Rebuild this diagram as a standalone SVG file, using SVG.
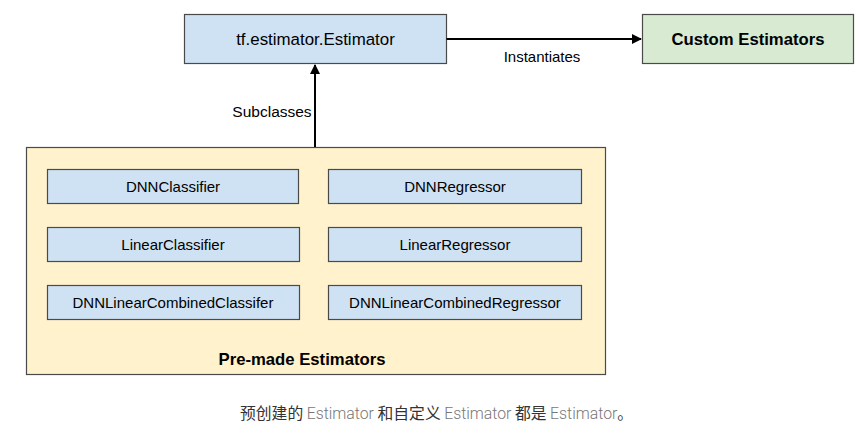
<svg xmlns="http://www.w3.org/2000/svg" width="866" height="433" viewBox="0 0 866 433">
<style>
.box{stroke:#4a4a4a;stroke-width:1.2}
.blue{fill:#cfe2f3}
.green{fill:#d9ead3}
.yellow{fill:#fff2cc}
text{font-family:"Liberation Sans",Arial,sans-serif;fill:#000}
.t{font-size:15px;text-anchor:middle}
.b{font-weight:bold;font-size:16.7px;text-anchor:middle}
.cap{font-size:15.8px;font-family:"Noto Sans CJK SC","Liberation Sans",sans-serif;fill:#333}
.lt{fill:#777;font-family:Roboto,"Liberation Sans",sans-serif;font-weight:300}
</style>
<defs>
<marker id="ah" markerWidth="10" markerHeight="10" refX="9" refY="5" orient="auto" markerUnits="userSpaceOnUse">
<path d="M0,0 L10,5 L0,10 z" fill="#000"/>
</marker>
</defs>
<g id="estimator"><rect class="box blue" x="184.5" y="14.5" width="262" height="49"/><text class="t" x="315.5" y="45" style="font-size:16.9px">tf.estimator.Estimator</text></g>
<g id="custom"><rect class="box green" x="642.5" y="14.5" width="211" height="49"/><text class="b" x="748" y="45">Custom Estimators</text></g>
<g id="premade"><rect class="box yellow" x="26.5" y="147.5" width="579" height="227"/><text class="b" x="302" y="365">Pre-made Estimators</text></g>
<g id="dnnclassifier"><rect class="box blue" x="47.5" y="169.5" width="251" height="34"/><text class="t" x="173" y="192">DNNClassifier</text></g>
<g id="dnnregressor"><rect class="box blue" x="328.5" y="169.5" width="253" height="34"/><text class="t" x="455" y="192">DNNRegressor</text></g>
<g id="linearclassifier"><rect class="box blue" x="47.5" y="227.5" width="252" height="34"/><text class="t" x="173" y="250">LinearClassifier</text></g>
<g id="linearregressor"><rect class="box blue" x="328.5" y="227.5" width="253" height="34"/><text class="t" x="455" y="250">LinearRegressor</text></g>
<g id="dnnlinearclassifier"><rect class="box blue" x="47.5" y="285.5" width="252" height="34"/><text class="t" x="173" y="308">DNNLinearCombinedClassifer</text></g>
<g id="dnnlinearregressor"><rect class="box blue" x="328.5" y="285.5" width="253" height="34"/><text class="t" x="455" y="308">DNNLinearCombinedRegressor</text></g>
<g id="connectors">
<line x1="446.5" y1="39" x2="641" y2="39" stroke="#000" stroke-width="2" marker-end="url(#ah)"/>
<text class="t" x="542" y="62">Instantiates</text>
<line x1="315" y1="147" x2="315" y2="65" stroke="#000" stroke-width="2" marker-end="url(#ah)"/>
<text class="t" x="272" y="117" style="font-size:15.5px">Subclasses</text>
</g>
<text class="cap" x="240" y="419">预创建的 <tspan class="lt">Estimator</tspan> 和自定义 <tspan class="lt">Estimator</tspan> 都是 <tspan class="lt">Estimator</tspan>。</text>
</svg>
